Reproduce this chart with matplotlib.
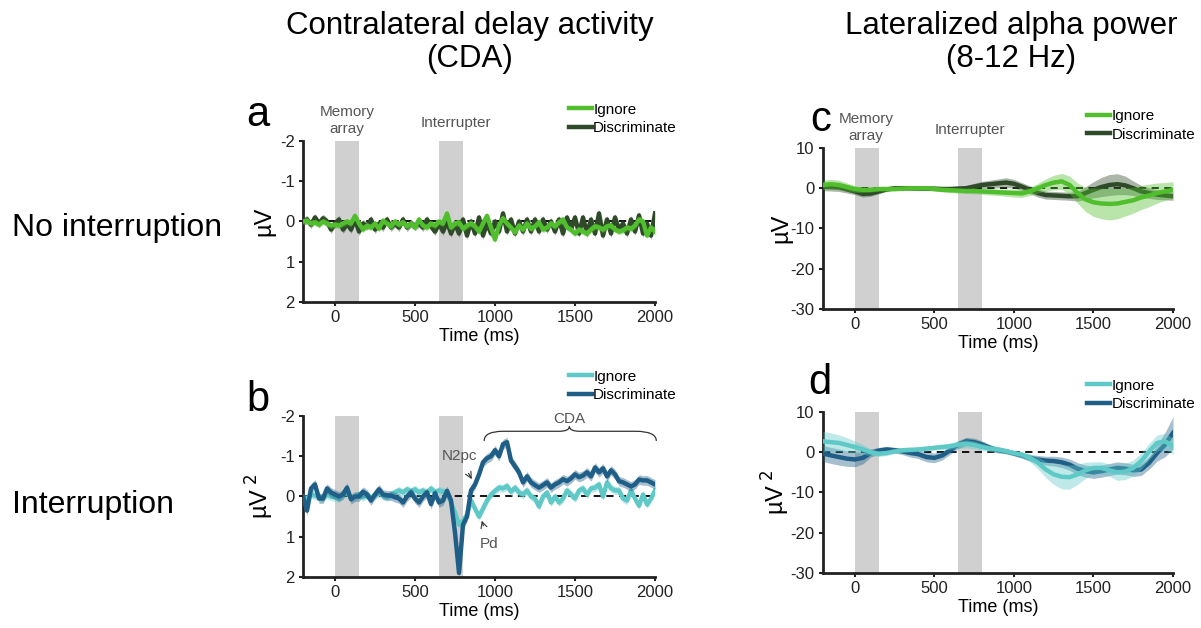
import numpy as np
import matplotlib.pyplot as plt
from matplotlib.path import Path
from matplotlib.patches import PathPatch

plt.rcParams['font.family'] = ['Liberation Sans', 'DejaVu Sans']
plt.rcParams['axes.unicode_minus'] = False

# time grids (ms)
t_erp = np.arange(-200, 2001, 25)
t_alpha = np.arange(-200, 2001, 50)

# panel a - CDA, no interruption (uV)
a_ignore = [0.0, -0.02, 0.05, 0.02, 0.08, 0.0, 0.05, 0.1, 0.08, 0.1, 0.05, 0.0, 0.05, -0.14, 0.05, 0.2,
            0.1, 0.15, 0.05, 0.18, -0.02, 0.05, 0.12, 0.0, 0.08, 0.02, 0.12, 0.05, 0.15, -0.05, 0.1, 0.15,
            0.05, 0.1, 0.0, 0.05, -0.2, 0.15, 0.05, 0.02, 0.18, 0.1, 0.05, 0.12, 0.25, 0.05, -0.14, 0.15,
            0.45, 0.1, -0.08, 0.05, 0.15, 0.27, 0.1, 0.2, 0.05, 0.18, 0.12, 0.02, 0.2, 0.15, 0.05, 0.12,
            0.02, -0.05, 0.15, 0.2, 0.3, 0.2, 0.25, 0.3, 0.2, 0.12, 0.15, 0.2, 0.12, 0.1, 0.2, 0.25,
            0.22, 0.15, 0.18, 0.1, -0.05, 0.0, 0.35, 0.15, 0.25]
a_discrim = [0.0, -0.05, 0.08, -0.1, 0.05, -0.08, 0.0, 0.2, 0.05, -0.05, 0.2, 0.05, 0.2, -0.05, 0.25, 0.05,
             0.12, -0.05, 0.2, 0.05, 0.15, -0.05, 0.15, 0.05, 0.15, -0.05, 0.15, 0.05, 0.12, 0.05, 0.15, -0.05,
             0.12, 0.25, 0.05, 0.25, 0.0, 0.3, 0.05, 0.3, -0.05, 0.35, 0.0, 0.3, -0.1, 0.35, 0.05, 0.3,
             0.0, 0.25, -0.2, 0.25, -0.05, 0.3, 0.0, 0.25, -0.05, 0.25, -0.05, 0.25, -0.05, 0.2, 0.0, 0.25,
             -0.05, 0.3, -0.1, 0.2, -0.1, 0.3, -0.1, 0.3, -0.05, 0.3, -0.2, 0.35, -0.05, 0.3, -0.1, 0.2,
             0.05, 0.3, -0.05, 0.25, -0.15, 0.3, 0.05, 0.35, -0.2]
a_ignore_sem = 0.08
a_discrim_sem = 0.1

# panel b - CDA, interruption (uV^2)
b_ignore = [0.05, 0.05, -0.05, -0.02, 0.0, 0.05, -0.05, 0.0, 0.02, 0.05, -0.05, -0.1, 0.03, 0.0, -0.05, 0.02,
            -0.05, 0.05, -0.05, -0.08, -0.02, 0.02, -0.05, -0.1, -0.15, -0.1, -0.18, -0.12, -0.18, -0.1, -0.15, -0.08,
            -0.2, -0.1, -0.15, -0.12, -0.1, 0.15, 0.4, 0.7, 0.6, 0.45, 0.1, 0.3, 0.5, 0.3, 0.1, -0.05,
            -0.14, -0.22, -0.2, -0.26, -0.12, -0.22, -0.1, -0.05, -0.15, 0.0, 0.05, 0.25, 0.0, -0.1, 0.15, 0.0,
            0.15, 0.05, -0.15, -0.05, 0.05, -0.15, -0.2, -0.05, -0.2, -0.22, -0.3, 0.0, -0.35, -0.2, -0.15, -0.15,
            0.05, 0.1, -0.15, 0.05, 0.23, -0.05, 0.2, 0.05, -0.15]
b_discrim = [0.0, 0.35, -0.2, -0.3, 0.05, 0.05, -0.2, -0.1, -0.05, 0.0, -0.05, -0.22, 0.07, 0.0, 0.0, -0.12,
             -0.05, 0.1, -0.05, -0.18, -0.05, -0.03, -0.02, 0.02, 0.05, 0.15, 0.0, -0.1, 0.05, 0.15, 0.0, -0.1,
             0.19, -0.08, 0.15, 0.1, -0.14, 0.1, 0.9, 1.9, 0.7, 0.5, -0.15, -0.3, -0.55, -0.85, -0.95, -1.0,
             -1.15, -1.0, -1.3, -1.35, -0.89, -0.75, -0.6, -0.35, -0.5, -0.35, -0.28, -0.22, -0.28, -0.35, -0.22, -0.3,
             -0.35, -0.43, -0.38, -0.45, -0.55, -0.48, -0.52, -0.6, -0.5, -0.72, -0.6, -0.7, -0.5, -0.65, -0.55, -0.38,
             -0.35, -0.3, -0.25, -0.3, -0.42, -0.4, -0.4, -0.35, -0.3]
b_ignore_sem = 0.1
b_discrim_sem = 0.12

# panel c - alpha, no interruption
c_ignore = [0.8, 1.0, 0.8, 0.3, -0.2, -0.4, -0.4, -0.2, -0.2, -0.2, -0.1, 0.0, 0.0, 0.0, -0.2, -0.4,
            -0.5, -0.6, -0.7, -0.7, -0.8, -0.9, -1.0, -1.1, -1.2, -1.3, -0.8, 0.0, 0.8, 1.4, 1.7, 0.8,
            -1.2, -2.8, -3.5, -3.8, -3.9, -3.8, -3.4, -3.0, -2.3, -1.8, -1.2, -0.8, -0.4]
c_ignore_sem = [1.2, 1.2, 1.2, 1.0, 0.8, 0.7, 0.6, 0.5, 0.5, 0.5, 0.5, 0.5, 0.5, 0.5, 0.5, 0.5,
                0.6, 0.6, 0.6, 0.7, 0.7, 0.8, 0.8, 0.9, 1.0, 1.0, 1.0, 1.2, 1.5, 1.8, 2.0, 2.2,
                2.5, 3.0, 3.5, 3.8, 4.0, 3.8, 3.5, 3.2, 3.0, 2.8, 2.5, 2.2, 2.0]
c_discrim = [0.4, 0.3, 0.2, -0.3, -0.8, -1.4, -1.3, -0.8, -0.3, 0.0, 0.0, 0.0, -0.1, -0.1, -0.1, -0.2,
             -0.2, -0.1, 0.0, 0.4, 0.8, 1.0, 1.2, 1.4, 1.1, 0.4, -0.4, -1.2, -1.7, -1.8, -1.9, -2.0,
             -2.0, -1.2, -0.4, 0.3, 0.8, 1.0, 0.7, 0.0, -0.8, -1.2, -1.6, -1.8, -2.0]
c_discrim_sem = [1.0, 1.0, 1.0, 0.9, 0.8, 0.8, 0.7, 0.6, 0.5, 0.5, 0.5, 0.5, 0.5, 0.5, 0.5, 0.6,
                 0.6, 0.6, 0.7, 0.8, 0.9, 1.0, 1.1, 1.2, 1.1, 1.0, 1.0, 1.0, 1.0, 1.0, 1.0, 1.0,
                 1.2, 1.6, 2.0, 2.4, 2.6, 2.6, 2.3, 1.8, 1.5, 1.3, 1.2, 1.1, 1.0]

# panel d - alpha, interruption
d_ignore = [2.7, 2.5, 2.3, 1.8, 1.3, 0.7, 0.0, -0.4, -0.2, 0.2, 0.5, 0.6, 0.7, 0.9, 1.1, 1.3,
            1.5, 1.9, 2.1, 1.8, 1.3, 0.9, 0.7, 0.3, -0.2, -0.6, -1.4, -2.6, -4.3, -5.5, -6.1, -6.2,
            -5.5, -4.5, -3.9, -3.9, -4.5, -5.0, -4.8, -3.9, -2.2, 0.2, 2.3, 2.7, 1.5]
d_ignore_sem = [2.5, 2.3, 2.0, 1.8, 1.5, 1.2, 0.8, 0.7, 0.6, 0.5, 0.5, 0.5, 0.5, 0.6, 0.6, 0.7,
                0.8, 0.9, 1.0, 1.0, 0.9, 0.8, 0.7, 0.6, 0.6, 0.8, 1.0, 1.5, 2.0, 2.5, 3.0, 3.0,
                2.5, 2.0, 1.5, 1.5, 1.5, 2.0, 2.0, 2.0, 2.0, 2.0, 2.0, 2.0, 2.0]
d_discrim = [-0.3, -0.8, -1.2, -1.6, -1.8, -1.4, -0.2, 0.4, 0.7, 0.5, 0.2, -0.2, -0.5, -1.2, -1.4, -0.8,
             0.5, 1.9, 2.7, 2.5, 1.9, 1.1, 0.5, 0.2, -0.3, -0.8, -1.4, -1.8, -2.1, -2.2, -2.5, -3.1,
             -4.1, -4.7, -5.0, -4.7, -4.3, -3.9, -4.1, -4.5, -4.3, -2.6, -0.2, 1.9, 4.8]
d_discrim_sem = [2.0, 2.0, 2.0, 1.9, 1.8, 1.5, 1.0, 0.8, 0.7, 0.7, 0.8, 1.0, 1.1, 1.2, 1.2, 1.1,
                 1.0, 1.0, 1.0, 1.0, 0.9, 0.8, 0.7, 0.6, 0.6, 0.7, 0.8, 1.0, 1.1, 1.2, 1.3, 1.4,
                 1.5, 1.5, 1.5, 1.5, 1.5, 1.5, 1.5, 1.5, 1.5, 1.6, 2.0, 3.0, 4.0]

green_light = '#50be2d'
green_dark = '#2f4a29'
cyan = '#5fc9c8'
blue_dark = '#1f5f87'
gray_txt = '#555555'

fig = plt.figure(figsize=(12.01, 6.28), dpi=100)

ax_a = fig.add_axes([0.2523, 0.5191, 0.2931, 0.2564])
ax_b = fig.add_axes([0.2523, 0.0812, 0.2931, 0.2564])
ax_c = fig.add_axes([0.6853, 0.5080, 0.2914, 0.2564])
ax_d = fig.add_axes([0.6853, 0.0876, 0.2914, 0.2564])


def draw_panel(ax, t, s1, e1, s2, e2, c1, c2, ylim, yticks, ylabel, top_first, leg_y, ypad):
    ax.axvspan(0, 150, color='#d0d0d0', lw=0, zorder=0)
    ax.axvspan(650, 800, color='#d0d0d0', lw=0, zorder=0)
    ax.plot([-200, 2000], [0, 0], color='k', lw=1.3, ls=(0, (4, 3)), zorder=1)
    s1, s2 = np.array(s1), np.array(s2)
    e1, e2 = np.broadcast_to(e1, s1.shape), np.broadcast_to(e2, s2.shape)
    z1, z2 = (4, 3) if top_first else (3, 4)
    ax.fill_between(t, s2 - e2, s2 + e2, color=c2, alpha=0.4, lw=0, zorder=z2)
    l2, = ax.plot(t, s2, color=c2, lw=3.2, zorder=z2, label='Discriminate')
    ax.fill_between(t, s1 - e1, s1 + e1, color=c1, alpha=0.4, lw=0, zorder=z1)
    l1, = ax.plot(t, s1, color=c1, lw=3.2, zorder=z1, label='Ignore')
    ax.set_xlim(-200, 2000)
    ax.set_ylim(*ylim)
    ax.set_yticks(yticks)
    ax.set_xticks([0, 500, 1000, 1500, 2000])
    ax.set_xlabel('Time (ms)', fontsize=13, labelpad=2)
    ax.set_ylabel(ylabel, fontsize=17, labelpad=ypad)
    for s in ['top', 'right']:
        ax.spines[s].set_visible(False)
    for s in ['left', 'bottom']:
        ax.spines[s].set_linewidth(2)
        ax.spines[s].set_color('#222222')
    ax.tick_params(labelsize=12, length=3, width=1.5, colors='#222222', pad=3)
    ax.legend(handles=[l1, l2], loc='lower left', bbox_to_anchor=(0.755, leg_y),
              frameon=False, fontsize=11, handlelength=1.5, handletextpad=0.1,
              labelspacing=0.3, borderpad=0, borderaxespad=0)


draw_panel(ax_a, t_erp, a_ignore, a_ignore_sem, a_discrim, a_discrim_sem,
           green_light, green_dark, (2, -2), [-2, -1, 0, 1, 2], 'µV', True, 1.035, 3)
draw_panel(ax_b, t_erp, b_ignore, b_ignore_sem, b_discrim, b_discrim_sem,
           cyan, blue_dark, (2, -2), [-2, -1, 0, 1, 2], 'µV$^{\\ 2}$', False, 1.085, 3)
draw_panel(ax_c, t_alpha, c_ignore, c_ignore_sem, c_discrim, c_discrim_sem,
           green_light, green_dark, (-30, 10), [10, 0, -10, -20, -30], 'µV', True, 1.04, -1)
draw_panel(ax_d, t_alpha, d_ignore, d_ignore_sem, d_discrim, d_discrim_sem,
           cyan, blue_dark, (-30, 10), [10, 0, -10, -20, -30], 'µV$^{\\ 2}$', True, 1.005, -1)

# event labels
for ax, mem_x, int_x in [(ax_a, 75, 755), (ax_c, 70, 725)]:
    ax.text(mem_x, 1.03, 'Memory\narray', transform=ax.get_xaxis_transform(),
            ha='center', va='bottom', fontsize=11, color=gray_txt, linespacing=1.25)
    ax.text(int_x, 1.07, 'Interrupter', transform=ax.get_xaxis_transform(),
            ha='center', va='bottom', fontsize=11, color=gray_txt)

# annotations in b
ax_b.annotate('N2pc', xy=(855, -0.43), xytext=(775, -1.0), ha='center', va='center',
              fontsize=11, color=gray_txt,
              arrowprops=dict(arrowstyle='->', color='#333333', lw=0.8, shrinkA=6, shrinkB=0))
ax_b.annotate('Pd', xy=(917, 0.6), xytext=(963, 1.17), ha='center', va='center',
              fontsize=11, color=gray_txt,
              arrowprops=dict(arrowstyle='->', color='#333333', lw=0.8, shrinkA=6, shrinkB=0))
ax_b.text(1465, -1.93, 'CDA', ha='center', va='center', fontsize=11, color=gray_txt)
brace = Path([(932, -1.38), (932, -1.62), (1050, -1.62), (1050, -1.62),
              (1400, -1.62), (1465, -1.62), (1465, -1.74), (1465, -1.62), (1530, -1.62),
              (1880, -1.62), (1880, -1.62), (2008, -1.62), (2008, -1.38)],
             [Path.MOVETO, Path.CURVE3, Path.CURVE3, Path.LINETO,
              Path.LINETO, Path.CURVE3, Path.CURVE3, Path.CURVE3, Path.CURVE3,
              Path.LINETO, Path.LINETO, Path.CURVE3, Path.CURVE3])
ax_b.add_patch(PathPatch(brace, fill=False, color='#333333', lw=0.9, clip_on=False))

# panel letters
for x, y, s in [(0.215, 0.80, 'a'), (0.215, 0.345, 'b'), (0.683, 0.792, 'c'), (0.683, 0.372, 'd')]:
    fig.text(x, y, s, fontsize=30, ha='center', va='baseline')

# column and row titles
fig.text(0.391, 0.982, 'Contralateral delay activity\n(CDA)', ha='center', va='top',
         fontsize=22.5, linespacing=1.1)
fig.text(0.842, 0.982, 'Lateralized alpha power\n(8-12 Hz)', ha='center', va='top',
         fontsize=22.5, linespacing=1.1)
fig.text(0.01, 0.637, 'No interruption', ha='left', va='center', fontsize=23)
fig.text(0.01, 0.196, 'Interruption', ha='left', va='center', fontsize=23)

fig.savefig('out.png', dpi=100)
